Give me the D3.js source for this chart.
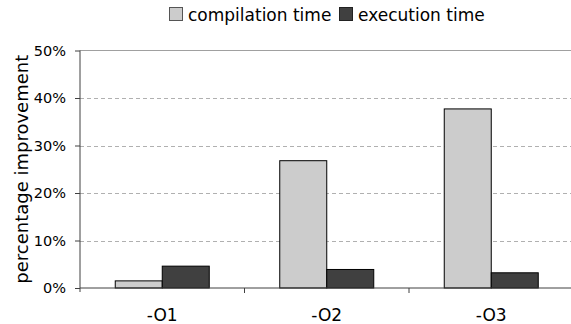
<!DOCTYPE html>
<html><head><meta charset="utf-8">
<script src="https://cdn.jsdelivr.net/npm/d3@7"></script>
<style>body{margin:0;background:#fff}svg{display:block}text{font-family:"DejaVu Sans",Verdana,sans-serif;fill:#000}</style>
</head><body><svg id="c" width="571" height="324"></svg>
<script>
const categories = ["-O1", "-O2", "-O3"];
const seriesNames = ["compilation time", "execution time"];
const compilation = [1.5, 26.8, 37.7];
const execution = [4.6, 3.9, 3.2];
const yTicks = [0, 10, 20, 30, 40, 50];
const colors = ["#cccccc", "#404040"];

const svg = d3.select("#c");
const L = 80, R = 573.5, T = 50.5, B = 288;
const x = d3.scaleBand().domain(categories).range([L, R]);
const y = d3.scaleLinear().domain([0, 50]).range([B, T]);
const xs = d3.scaleBand().domain(seriesNames).range([0, x.bandwidth()]).paddingInner(0).paddingOuter(0.75);

// gridlines
svg.append("g").selectAll("line").data(yTicks.filter(d => d > 0 && d < 50)).join("line")
  .attr("x1", L).attr("x2", R).attr("y1", d => Math.round(y(d)) + 0.5).attr("y2", d => Math.round(y(d)) + 0.5)
  .attr("stroke", "#b0b0b0").attr("stroke-dasharray", "4,3").attr("stroke-width", 1);
svg.append("line").attr("x1", L).attr("x2", R).attr("y1", y(50)).attr("y2", y(50))
  .attr("stroke", "#a0a0a0").attr("stroke-width", 1);

const data = categories.map((c, i) => ({c, vals: [compilation[i], execution[i]]}));
const g = svg.append("g").selectAll("g").data(data).join("g")
  .attr("transform", d => `translate(${x(d.c)},0)`);
g.selectAll("rect").data(d => d.vals.map((v, j) => ({v, s: seriesNames[j], j}))).join("rect")
  .attr("x", d => xs(d.s)).attr("width", xs.bandwidth())
  .attr("y", d => y(d.v)).attr("height", d => B - y(d.v))
  .attr("fill", d => colors[d.j]).attr("stroke", "#000").attr("stroke-width", 1);

// y axis
const ya = svg.append("g").attr("transform", `translate(${L},0)`)
  .call(d3.axisLeft(y).tickValues(yTicks).tickFormat(d => d + "%").tickSize(5).tickPadding(9));
ya.select(".domain").attr("stroke", "#404040").attr("d", `M0,${T}V${B + 4}`);
ya.selectAll(".tick line").attr("stroke", "#404040");
ya.selectAll("text").style("font-size", "14.5px").style("font-family", '"DejaVu Sans",Verdana,sans-serif').attr("fill", "#000");

// x axis
svg.append("line").attr("x1", L).attr("x2", R).attr("y1", B).attr("y2", B).attr("stroke", "#404040");
svg.append("g").selectAll("line").data(categories.slice(1)).join("line")
  .attr("x1", d => x(d)).attr("x2", d => x(d)).attr("y1", B).attr("y2", B + 5).attr("stroke", "#404040");
svg.append("g").selectAll("text").data(categories).join("text")
  .attr("x", d => x(d) + x.bandwidth() / 2).attr("y", 321).attr("text-anchor", "middle")
  .style("font-size", "17px").text(d => d);

// y label
svg.append("text").attr("transform", `translate(28,${(T + B) / 2 + 0}) rotate(-90)`)
  .attr("text-anchor", "middle").style("font-size", "18px").text("percentage improvement");

// legend
const lg = svg.append("g");
const legendX = [169, 339];
seriesNames.forEach((s, i) => {
  lg.append("rect").attr("x", legendX[i] + 0.5).attr("y", 7.5).attr("width", 13).attr("height", 13)
    .attr("fill", colors[i]).attr("stroke", i === 0 ? "#555" : "#222");
  lg.append("text").attr("x", legendX[i] + 19).attr("y", 21).style("font-size", "17px").text(s);
});
</script></body></html>
